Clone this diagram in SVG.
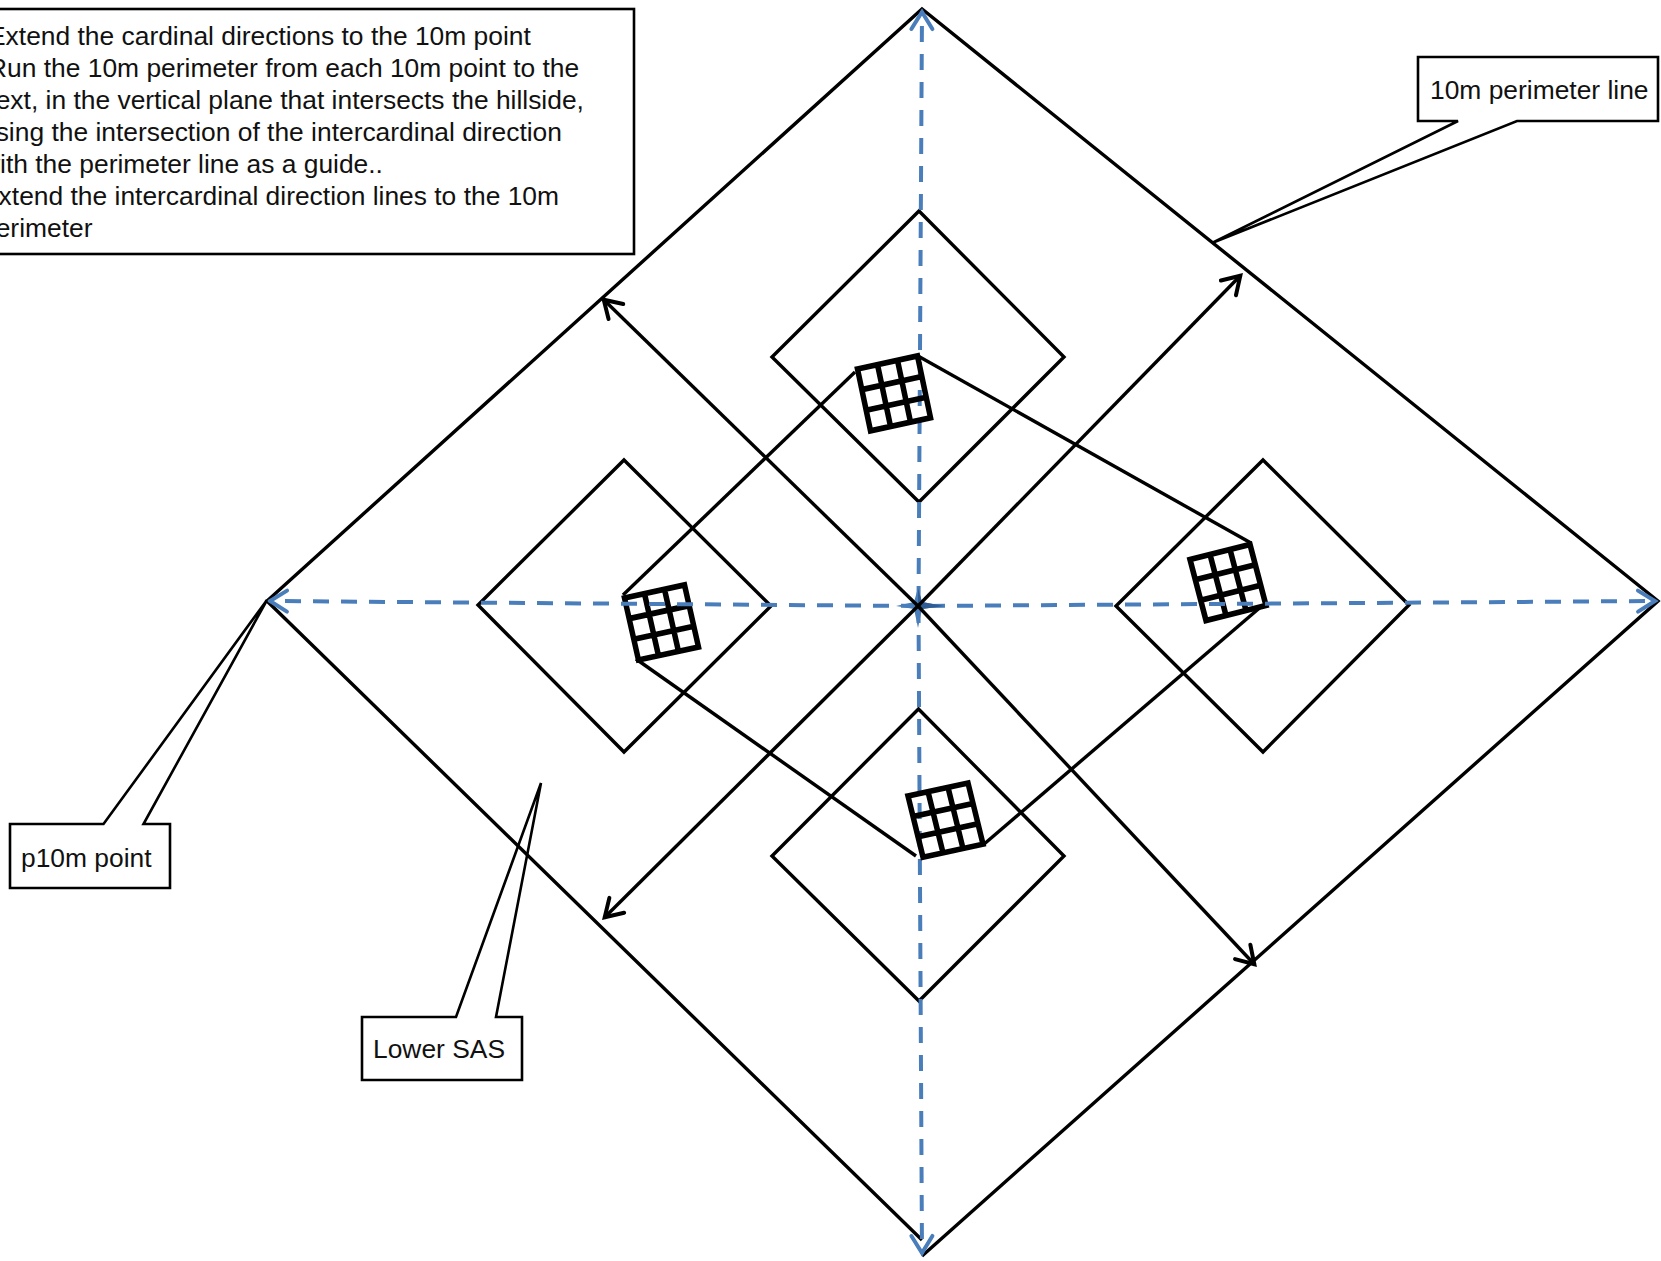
<svg xmlns="http://www.w3.org/2000/svg" width="1661" height="1261" viewBox="0 0 1661 1261">
<style>
.l{fill:none;stroke:#000;stroke-width:3.4}
.c{fill:none;stroke:#000;stroke-width:2.6}
.a{fill:none;stroke:#000;stroke-width:3.4;marker-end:url(#ak)}
.b{fill:none;stroke:#4a7ebb;stroke-width:4;stroke-dasharray:16 12;marker-end:url(#ab)}
.g{fill:none;stroke:#000;stroke-width:5.4}
text{font-family:"Liberation Sans",Arial,sans-serif;font-size:26.4px;fill:#111}
</style>
<defs>
<marker id="ak" markerUnits="userSpaceOnUse" markerWidth="30" markerHeight="30" refX="24" refY="15" orient="auto"><path d="M6 4.500L23 15L6 25.500" fill="none" stroke="#000" stroke-width="4" stroke-linecap="round"/></marker>
<marker id="ab" markerUnits="userSpaceOnUse" markerWidth="30" markerHeight="30" refX="24" refY="15" orient="auto"><path d="M6 4.500L23 15L6 25.500" fill="none" stroke="#4a7ebb" stroke-width="4" stroke-linecap="round"/></marker>
<path id="grid" d="M0 0H60V60H0Z M20 0V60M40 0V60M0 20H60M0 40H60"/>
</defs>
<rect width="1661" height="1261" fill="#fff"/>
<g id="perimeter"><path class="l" d="M922 1240L267 601L922 9L1658 601L922 1256"/></g>
<g id="diamond-north"><path class="l" d="M919 211L1064 357L919 502L772 357Z"/></g>
<g id="diamond-west"><path class="l" d="M624 460L771 606L624 752L478 605Z"/></g>
<g id="diamond-east"><path class="l" d="M1263 460L1409 605L1263 752L1116 606Z"/></g>
<g id="diamond-south"><path class="l" d="M918.500 709L1064 856L919 1001L772 856Z"/></g>
<g id="connectors">
<path class="b" stroke-dashoffset="24" d="M918.500 606L922 11"/>
<path class="b" stroke-dashoffset="27" d="M918.500 606L922 1254"/>
<path class="l" d="M918 356L1251 543"/>
<path class="l" d="M1263 605L983 845"/>
<path class="l" d="M916 856L636 659"/>
<path class="l" d="M623 595L855 372"/>
</g>
<g id="grid-north"><use href="#grid" class="g" transform="matrix(1 -.217 .217 1.03 857.500 369)"/></g>
<g id="grid-west"><use href="#grid" class="g" transform="matrix(1 -.217 .233 1.033 624.500 598)"/></g>
<g id="grid-east"><use href="#grid" class="g" transform="matrix(1 -.25 .267 1.017 1190 559.500)"/></g>
<g id="grid-south"><use href="#grid" class="g" transform="matrix(1 -.217 .25 1.02 908 796)"/></g>
<g id="connectors-cardinal-and-intercardinal">
<path class="b" stroke-dashoffset="27" d="M918 606L269 601"/>
<path class="b" stroke-dashoffset="17" d="M918 606L1656 601"/>
<path fill="#4a7ebb" d="M918 588L922 602L944 606L922 609L918 628L914 609L896 606L914 602Z"/>
<path fill="#2f5c92" d="M918 588L922 602L944 606L922 609L918 606Z"/>
<path class="a" d="M918 606L603 299"/>
<path class="a" d="M918 606L1241 275"/>
<path class="a" d="M918 606L604 918"/>
<path class="a" d="M918 606L1255 965"/>
</g>
<g id="note">
<rect class="c" x="-10" y="9" width="644" height="245"/>
<text x="-12" y="45">Extend the cardinal directions to the 10m point</text>
<text x="-12" y="77">Run the 10m perimeter from each 10m point to the</text>
<text x="-19" y="109">next, in the vertical plane that intersects the hillside,</text>
<text x="-19" y="141">using the intersection of the intercardinal direction</text>
<text x="-19" y="173">with the perimeter line as a guide..</text>
<text x="-19" y="205">Extend the intercardinal direction lines to the 10m</text>
<text x="-19" y="237">perimeter</text>
</g>
<g id="callout-perimeter">
<path class="c" d="M1418 57H1658V121H1517L1212 243L1458 121H1418Z"/>
<text x="1430" y="99">10m perimeter line</text>
</g>
<g id="callout-point">
<path class="c" d="M10 824H103.500L267 600L143.500 824H170V888H10Z"/>
<text x="21" y="867">p10m point</text>
</g>
<g id="callout-sas">
<path class="c" d="M362 1017H456L541 783L496 1017H522V1080H362Z"/>
<text x="373" y="1058">Lower SAS</text>
</g>
</svg>
